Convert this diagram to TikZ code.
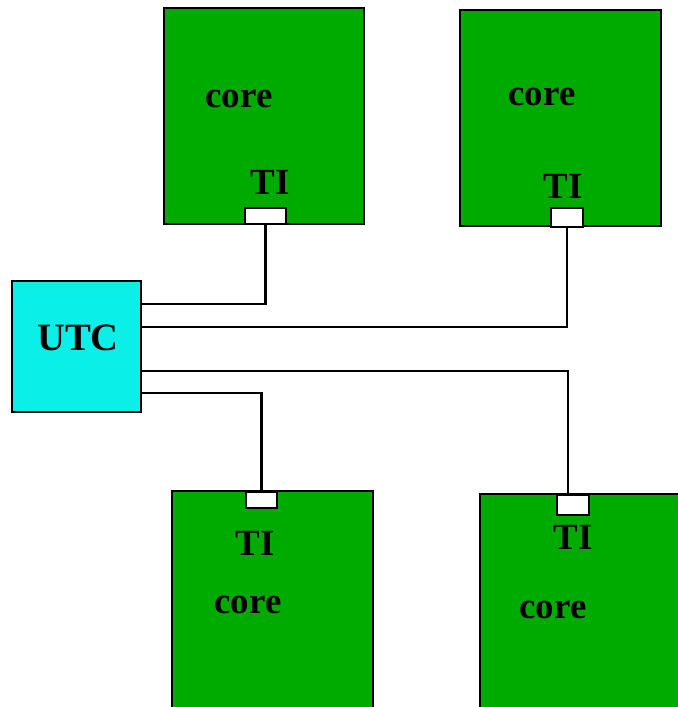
\documentclass[tikz,border=0pt]{standalone}
\usepackage{fontspec}
\setmainfont{Liberation Serif}
\usepackage{xcolor}
\definecolor{coregreen}{rgb}{0,0.67,0}
\definecolor{utccyan}{rgb}{0.04,0.94,0.91}
\usepackage{tikz}
\usetikzlibrary{positioning}

\begin{document}
\begin{tikzpicture}[
  x=0.02cm, y=-0.02cm,
  corebox/.style={draw=black, line width=1.3pt, fill=coregreen, inner sep=0pt, minimum width=4.02cm, minimum height=4.32cm},
  utcbox/.style={draw=black, line width=1.3pt, fill=utccyan, inner sep=0pt, minimum width=2.58cm, minimum height=2.62cm},
  pad/.style={draw=black, line width=1.3pt, fill=white, inner sep=0pt, minimum width=0.64cm, minimum height=0.34cm},
  lbl/.style={font=\fontsize{21}{21}\selectfont\bfseries, inner sep=0pt},
  wire/.style={black, line width=1.5pt}
]
\useasboundingbox (0,0) rectangle (677,707);
\node[corebox, minimum width=4cm] (coreA) at (264,116) {};
\node[corebox] (coreB) at (560.5,118) {};
\node[corebox, minimum height=4.58cm] (coreC) at (272.5,605.5) {};
\node[corebox, minimum width=4.24cm, minimum height=4.52cm] (coreD) at (586,607) {};
\node[utcbox] (utc) at (76.5,346.5) {};
\node[pad, minimum width=0.82cm, minimum height=0.32cm] (padA) at (265.5,216) {};
\node[pad, minimum height=0.38cm] (padB) at (567,217.5) {};
\node[pad, minimum width=0.62cm, minimum height=0.32cm] (padC) at (261.5,500) {};
\node[pad, minimum height=0.4cm] (padD) at (573,505) {};
\node[lbl] (coreAtxt) at (239,99) {core};
\node[lbl] (tiAtxt) at (270,182) {TI};
\node[lbl] (coreBtxt) at (542,97) {core};
\node[lbl] (tiBtxt) at (563,186) {TI};
\node[lbl] (tiCtxt) at (255,543) {TI};
\node[lbl] (coreCtxt) at (248,605) {core};
\node[lbl] (tiDtxt) at (573,537) {TI};
\node[lbl] (coreDtxt) at (553,610) {core};
\node[lbl, font=\fontsize{22}{22}\selectfont\bfseries] (utctxt) at (78,338) {UTC};
\draw[wire] (utc.east |- 0,304) -| (padA.south);
\draw[wire] (utc.east |- 0,327) -| (padB.south);
\draw[wire] (utc.east |- 0,371) -| ([xshift=-2.8pt]padD.north);
\draw[wire] (utc.east |- 0,393) -| (padC.north);
\end{tikzpicture}
\end{document}
